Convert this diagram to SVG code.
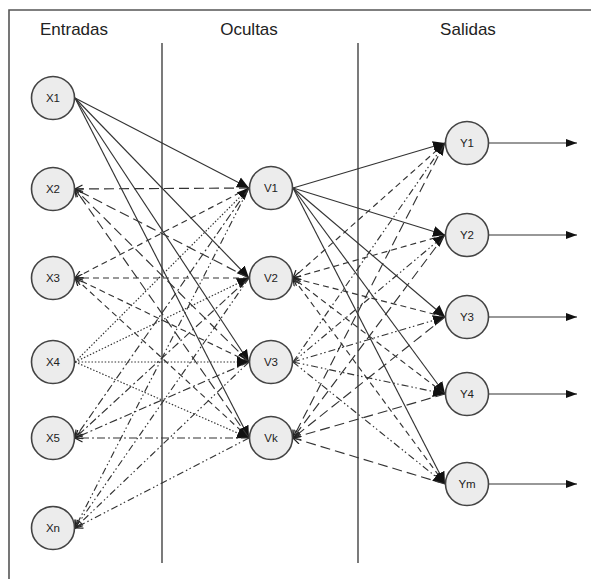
<svg xmlns="http://www.w3.org/2000/svg" width="591" height="579" viewBox="0 0 591 579">
  <style>
    .frame { stroke: #555; stroke-width: 1.6; fill: none; }
    .divider { stroke: #333; stroke-width: 1.3; }
    .title { font-family: "Liberation Sans", Arial, sans-serif; font-size: 17px; fill: #222; text-anchor: middle; }
    .node circle { fill: #ececec; stroke: #444; stroke-width: 1.6; }
    .node text { font-family: "Liberation Sans", Arial, sans-serif; font-size: 11.5px; fill: #222; text-anchor: middle; dominant-baseline: central; }
    .links line { stroke: #333; stroke-width: 1.15; fill: none; }
    .solid { }
    .long { stroke-dasharray: 10 5; }
    .mid { stroke-dasharray: 6 4; }
    .dot { stroke-dasharray: 1.5 1.8; }
    .dashdot { stroke-dasharray: 8 3 2 3; }
    .dashdotdot { stroke-dasharray: 7 3 1.5 2.5 1.5 3; }
    .fwd { marker-end: url(#head); }
    .back { marker-end: url(#tip); }
    .out { marker-end: url(#outHead); }
  </style>
  <defs>
    <marker id="head" markerWidth="14" markerHeight="14" refX="12" refY="7" orient="auto" markerUnits="userSpaceOnUse">
      <path d="M0,1.5 L12,7 L0,12.5 z" fill="#111"/>
    </marker>
    <marker id="tip" markerWidth="9" markerHeight="9" refX="8" refY="4.5" orient="auto" markerUnits="userSpaceOnUse">
      <path d="M0.5,0.5 L8,4.5 L0.5,8.5" fill="none" stroke="#222" stroke-width="1.2"/>
    </marker>
    <marker id="outHead" markerWidth="12" markerHeight="10" refX="11" refY="5" orient="auto" markerUnits="userSpaceOnUse">
      <path d="M0,1 L11,5 L0,9 z" fill="#111"/>
    </marker>
  </defs>

  <rect width="591" height="579" fill="#fff"/>

  <!-- frame (top and left edges) -->
  <path class="frame" d="M9,579 L9,10 L591,10"/>

  <!-- layer titles -->
  <text class="title" x="74" y="35">Entradas</text>
  <text class="title" x="249" y="35">Ocultas</text>
  <text class="title" x="468" y="35">Salidas</text>

  <!-- layer dividers -->
  <line class="divider" x1="162" y1="43" x2="162" y2="563"/>
  <line class="divider" x1="358" y1="43" x2="358" y2="563"/>

  <g id="connectors" class="links">
    <!-- X1 to hidden layer -->
    <line class="solid fwd" x1="75" y1="98" x2="249" y2="188"/>
    <line class="solid fwd" x1="75" y1="98" x2="249" y2="278"/>
    <line class="solid fwd" x1="75" y1="98" x2="249" y2="362"/>
    <line class="solid fwd" x1="75" y1="98" x2="249" y2="438"/>
    <!-- hidden layer back to X2 -->
    <line class="long back" x1="249" y1="188" x2="75" y2="189"/>
    <line class="long back" x1="249" y1="278" x2="75" y2="189"/>
    <line class="long back" x1="249" y1="362" x2="75" y2="189"/>
    <line class="long back" x1="249" y1="438" x2="75" y2="189"/>
    <!-- hidden layer back to X3 -->
    <line class="mid back" x1="249" y1="188" x2="75" y2="278"/>
    <line class="mid back" x1="249" y1="278" x2="75" y2="278"/>
    <line class="mid back" x1="249" y1="362" x2="75" y2="278"/>
    <line class="mid back" x1="249" y1="438" x2="75" y2="278"/>
    <!-- X4 to hidden layer -->
    <line class="dot fwd" x1="75" y1="362" x2="249" y2="188"/>
    <line class="dot fwd" x1="75" y1="362" x2="249" y2="278"/>
    <line class="dot fwd" x1="75" y1="362" x2="249" y2="362"/>
    <line class="dot fwd" x1="75" y1="362" x2="249" y2="438"/>
    <!-- hidden layer back to X5 -->
    <line class="dashdot back" x1="249" y1="188" x2="75" y2="438"/>
    <line class="dashdot back" x1="249" y1="278" x2="75" y2="438"/>
    <line class="dashdot back" x1="249" y1="362" x2="75" y2="438"/>
    <line class="dashdot back" x1="249" y1="438" x2="75" y2="438"/>
    <!-- hidden layer back to Xn -->
    <line class="dashdotdot back" x1="249" y1="188" x2="75" y2="528"/>
    <line class="dashdotdot back" x1="249" y1="278" x2="75" y2="528"/>
    <line class="dashdotdot back" x1="249" y1="362" x2="75" y2="528"/>
    <line class="dashdotdot back" x1="249" y1="438" x2="75" y2="528"/>

    <!-- V1 to outputs -->
    <line class="solid fwd" x1="293" y1="188" x2="445" y2="143"/>
    <line class="solid fwd" x1="293" y1="188" x2="445" y2="235"/>
    <line class="solid fwd" x1="293" y1="188" x2="445" y2="317"/>
    <line class="solid fwd" x1="293" y1="188" x2="445" y2="394"/>
    <line class="solid fwd" x1="293" y1="188" x2="445" y2="484"/>
    <!-- outputs back to V2 -->
    <line class="mid back" x1="445" y1="143" x2="293" y2="278"/>
    <line class="mid back" x1="445" y1="235" x2="293" y2="278"/>
    <line class="mid back" x1="445" y1="317" x2="293" y2="278"/>
    <line class="mid back" x1="445" y1="394" x2="293" y2="278"/>
    <line class="mid back" x1="445" y1="484" x2="293" y2="278"/>
    <!-- V3 to outputs -->
    <line class="dashdotdot fwd" x1="293" y1="362" x2="445" y2="143"/>
    <line class="dashdotdot fwd" x1="293" y1="362" x2="445" y2="235"/>
    <line class="dashdotdot fwd" x1="293" y1="362" x2="445" y2="317"/>
    <line class="dashdotdot fwd" x1="293" y1="362" x2="445" y2="394"/>
    <line class="dashdotdot fwd" x1="293" y1="362" x2="445" y2="484"/>
    <!-- outputs back to Vk -->
    <line class="long back" x1="445" y1="143" x2="293" y2="438"/>
    <line class="long back" x1="445" y1="235" x2="293" y2="438"/>
    <line class="long back" x1="445" y1="317" x2="293" y2="438"/>
    <line class="long back" x1="445" y1="394" x2="293" y2="438"/>
    <line class="long back" x1="445" y1="484" x2="293" y2="438"/>

    <!-- network outputs -->
    <line class="solid out" x1="489" y1="143" x2="577" y2="143"/>
    <line class="solid out" x1="489" y1="235" x2="577" y2="235"/>
    <line class="solid out" x1="489" y1="317" x2="577" y2="317"/>
    <line class="solid out" x1="489" y1="394" x2="577" y2="394"/>
    <line class="solid out" x1="489" y1="484" x2="577" y2="484"/>
  </g>

  <!-- input layer -->
  <g id="X1" class="node"><circle cx="53" cy="98" r="21.5"/><text x="53" y="98">X1</text></g>
  <g id="X2" class="node"><circle cx="53" cy="189" r="21.5"/><text x="53" y="189">X2</text></g>
  <g id="X3" class="node"><circle cx="53" cy="278" r="21.5"/><text x="53" y="278">X3</text></g>
  <g id="X4" class="node"><circle cx="53" cy="362" r="21.5"/><text x="53" y="362">X4</text></g>
  <g id="X5" class="node"><circle cx="53" cy="438" r="21.5"/><text x="53" y="438">X5</text></g>
  <g id="Xn" class="node"><circle cx="53" cy="528" r="21.5"/><text x="53" y="528">Xn</text></g>

  <!-- hidden layer -->
  <g id="V1" class="node"><circle cx="271" cy="188" r="21.5"/><text x="271" y="188">V1</text></g>
  <g id="V2" class="node"><circle cx="271" cy="278" r="21.5"/><text x="271" y="278">V2</text></g>
  <g id="V3" class="node"><circle cx="271" cy="362" r="21.5"/><text x="271" y="362">V3</text></g>
  <g id="Vk" class="node"><circle cx="271" cy="438" r="21.5"/><text x="271" y="438">Vk</text></g>

  <!-- output layer -->
  <g id="Y1" class="node"><circle cx="467" cy="143" r="21.5"/><text x="467" y="143">Y1</text></g>
  <g id="Y2" class="node"><circle cx="467" cy="235" r="21.5"/><text x="467" y="235">Y2</text></g>
  <g id="Y3" class="node"><circle cx="467" cy="317" r="21.5"/><text x="467" y="317">Y3</text></g>
  <g id="Y4" class="node"><circle cx="467" cy="394" r="21.5"/><text x="467" y="394">Y4</text></g>
  <g id="Ym" class="node"><circle cx="467" cy="484" r="21.5"/><text x="467" y="484">Ym</text></g>
</svg>
